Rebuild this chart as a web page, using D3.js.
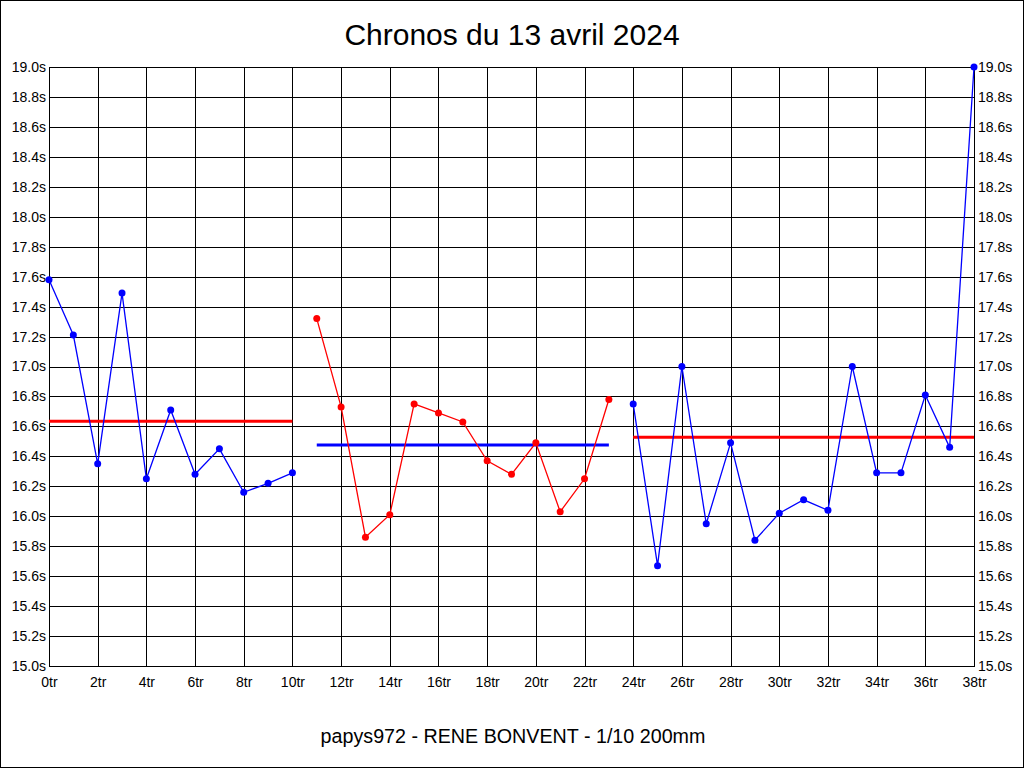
<!DOCTYPE html>
<html><head><meta charset="utf-8">
<script src="https://cdn.jsdelivr.net/npm/d3@7"></script>
<style>
html,body{margin:0;padding:0;background:#fff;}
svg{display:block;}
text{font-family:"Liberation Sans",Arial,sans-serif;}
</style></head>
<body>
<svg id="c" width="1024" height="768"></svg>
<script>
const title = "Chronos du 13 avril 2024";
const footer = "papys972 - RENE BONVENT - 1/10 200mm";
const xTicks = [0,2,4,6,8,10,12,14,16,18,20,22,24,26,28,30,32,34,36,38];
const yTicks = [15.0,15.2,15.4,15.6,15.8,16.0,16.2,16.4,16.6,16.8,17.0,17.2,17.4,17.6,17.8,18.0,18.2,18.4,18.6,18.8,19.0];
// segment 1 (blue): laps 0..10
const seg1Laps = [0,1,2,3,4,5,6,7,8,9,10];
const seg1Times = [17.58,17.21,16.35,17.49,16.25,16.71,16.28,16.45,16.16,16.22,16.29];
// segment 2 (red): laps 11..23
const seg2Laps = [11,12,13,14,15,16,17,18,19,20,21,22,23];
const seg2Times = [17.32,16.73,15.86,16.01,16.75,16.69,16.63,16.37,16.28,16.49,16.03,16.25,16.78];
// segment 3 (blue): laps 24..38
const seg3Laps = [24,25,26,27,28,29,30,31,32,33,34,35,36,37,38];
const seg3Times = [16.75,15.67,17.00,15.95,16.49,15.84,16.02,16.11,16.04,17.00,16.29,16.29,16.81,16.46,19.00];
// averages per segment
const avgStart = [0,11,24];
const avgEnd = [10,23,38];
const avgValues = [16.634,16.476,16.527];
const segColors = ["#0000ff","#ff0000","#0000ff"];
const avgColors = ["#ff0000","#0000ff","#ff0000"];

const svg = d3.select("#c");
const W=1024,H=768;
const L=49,R=974,T=67,B=666;
const x = d3.scaleLinear().domain([0,38]).range([L,R]);
const y = d3.scaleLinear().domain([15,19]).range([B,T]);

svg.append("rect").attr("x",0.5).attr("y",0.5).attr("width",W-1).attr("height",H-1)
  .attr("fill","#fff").attr("stroke","#000").attr("stroke-width",1);

// grid via axes
const gx = svg.append("g").attr("transform",`translate(0,${B})`)
  .call(d3.axisBottom(x).tickValues(xTicks).tickSize(-(B-T)).tickPadding(11).tickFormat(d=>d+"tr"));
const gyL = svg.append("g").attr("transform",`translate(${L},0)`)
  .call(d3.axisLeft(y).tickValues(yTicks).tickSize(-(R-L)).tickPadding(3).tickFormat(d=>d3.format(".1f")(d)+"s"));
const gyR = svg.append("g").attr("transform",`translate(${R},0)`)
  .call(d3.axisRight(y).tickValues(yTicks).tickSize(0).tickPadding(4).tickFormat(d=>d3.format(".1f")(d)+"s"));
[gx,gyL,gyR].forEach(g=>{
  g.select(".domain").remove();
  g.selectAll("line").attr("stroke","#000").attr("shape-rendering","crispEdges");
  g.selectAll("text").attr("font-size","14px").attr("fill","#000")
    .attr("font-family","'Liberation Sans',Arial,sans-serif");
});
gyR.selectAll("line").remove();
svg.append("rect").attr("x",L).attr("y",T).attr("width",R-L).attr("height",B-T)
  .attr("fill","none").attr("stroke","#000").attr("shape-rendering","crispEdges");

// average lines
avgValues.forEach((v,i)=>{
  svg.append("line").attr("x1",x(avgStart[i])).attr("x2",x(avgEnd[i]))
    .attr("y1",y(v)).attr("y2",y(v)).attr("stroke",avgColors[i]).attr("stroke-width",3);
});

// series
const segs = [[seg1Laps,seg1Times],[seg2Laps,seg2Times],[seg3Laps,seg3Times]];
const line = d3.line().x(d=>x(d[0])).y(d=>y(d[1]));
segs.forEach(([laps,times],i)=>{
  const pts = laps.map((l,j)=>[l,times[j]]);
  svg.append("path").datum(pts).attr("d",line).attr("fill","none")
    .attr("stroke",segColors[i]).attr("stroke-width",1.3);
  svg.append("g").selectAll("circle").data(pts).join("circle")
    .attr("cx",d=>x(d[0])).attr("cy",d=>y(d[1])).attr("r",3.5).attr("fill",segColors[i]);
});

svg.append("text").attr("x",W/2).attr("y",45).attr("text-anchor","middle")
  .attr("font-size","30px").attr("fill","#000").text(title);
svg.append("text").attr("x",513).attr("y",743).attr("text-anchor","middle")
  .attr("font-size","19.7px").attr("fill","#000").text(footer);
</script>
</body></html>
